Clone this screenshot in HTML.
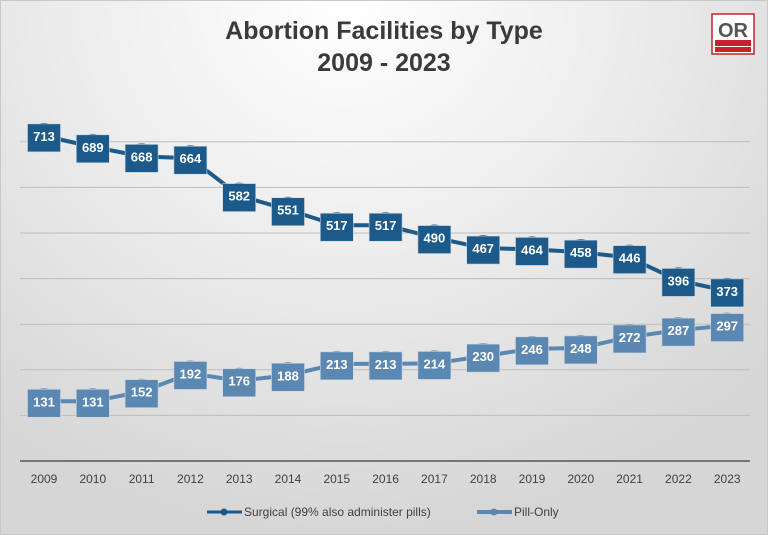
<!DOCTYPE html>
<html><head><meta charset="utf-8"><style>
html,body{margin:0;padding:0;}
body{width:768px;height:535px;overflow:hidden;}
#c{position:absolute;left:0;top:0;width:766px;height:533px;border:1px solid #c8c8c8;
background:radial-gradient(ellipse 75% 100% at 45% 0%, #ffffff 0%, #eeeeee 45%, #d6d6d6 100%);}
svg{position:absolute;left:0;top:0;}
text{font-family:"Liberation Sans",sans-serif;}
</style></head><body><div id="c"></div>
<svg id="s" width="768" height="535" viewBox="0 0 768 535"></svg>
<script>
const S=[713,689,668,664,582,551,517,517,490,467,464,458,446,396,373];
const P=[131,131,152,192,176,188,213,213,214,230,246,248,272,287,297];
const X=i=>44+i*48.8, Y=v=>461-v*0.456;
let h='';
h+='<text x="384" y="39" text-anchor="middle" font-size="25" font-weight="bold" fill="#3a3a3a">Abortion Facilities by Type</text>';
h+='<text x="384" y="71" text-anchor="middle" font-size="25" font-weight="bold" fill="#3a3a3a">2009 - 2023</text>';
h+='<rect x="712" y="14" width="42" height="40" fill="#fff" stroke="#c8202f" stroke-width="1.5"/>';
h+='<text x="733" y="37" text-anchor="middle" font-size="20" font-weight="bold" fill="#555">OR</text>';
h+='<rect x="715" y="40" width="36" height="6" fill="#c8202f"/><rect x="715" y="47" width="36" height="5" fill="#c8202f"/>';
for(let k=1;k<=7;k++){const y=Y(k*100);h+=`<line x1="20" x2="750" y1="${y}" y2="${y}" stroke="#bdbdbd" stroke-width="1"/>`;}
h+='<line x1="20" x2="750" y1="461" y2="461" stroke="#555" stroke-width="1.5"/>';
for(let i=0;i<15;i++)h+=`<text x="${X(i)}" y="483" text-anchor="middle" font-size="12" fill="#404040">${2009+i}</text>`;
function ser(d,col){
 h+=`<polyline fill="none" stroke="${col}" stroke-width="4" points="${d.map((v,i)=>X(i)+','+Y(v)).join(' ')}"/>`;
 d.forEach((v,i)=>{const x=X(i),y=Y(v);
  h+=`<circle cx="${x}" cy="${y+1}" r="14" fill="${col}"/>`;
  h+=`<rect x="${x-16.5}" y="${y-12}" width="33" height="28" fill="${col}" stroke="#cfd6de" stroke-width="0.6"/>`;
  h+=`<text x="${x}" y="${y+5}" text-anchor="middle" font-size="13" font-weight="bold" fill="#fff">${v}</text>`;});
}
ser(S,'#1b5a8a');ser(P,'#5b88b2');
h+='<line x1="207" x2="242" y1="512" y2="512" stroke="#1b5a8a" stroke-width="3"/><circle cx="224" cy="512" r="3.5" fill="#1b5a8a"/>';
h+='<text x="244" y="516" font-size="12" fill="#404040">Surgical (99% also administer pills)</text>';
h+='<line x1="477" x2="512" y1="512" y2="512" stroke="#5b88b2" stroke-width="4"/><circle cx="494" cy="512" r="3.5" fill="#5b88b2"/>';
h+='<text x="514" y="516" font-size="12" fill="#404040">Pill-Only</text>';
document.getElementById('s').innerHTML=h;
</script></body></html>
